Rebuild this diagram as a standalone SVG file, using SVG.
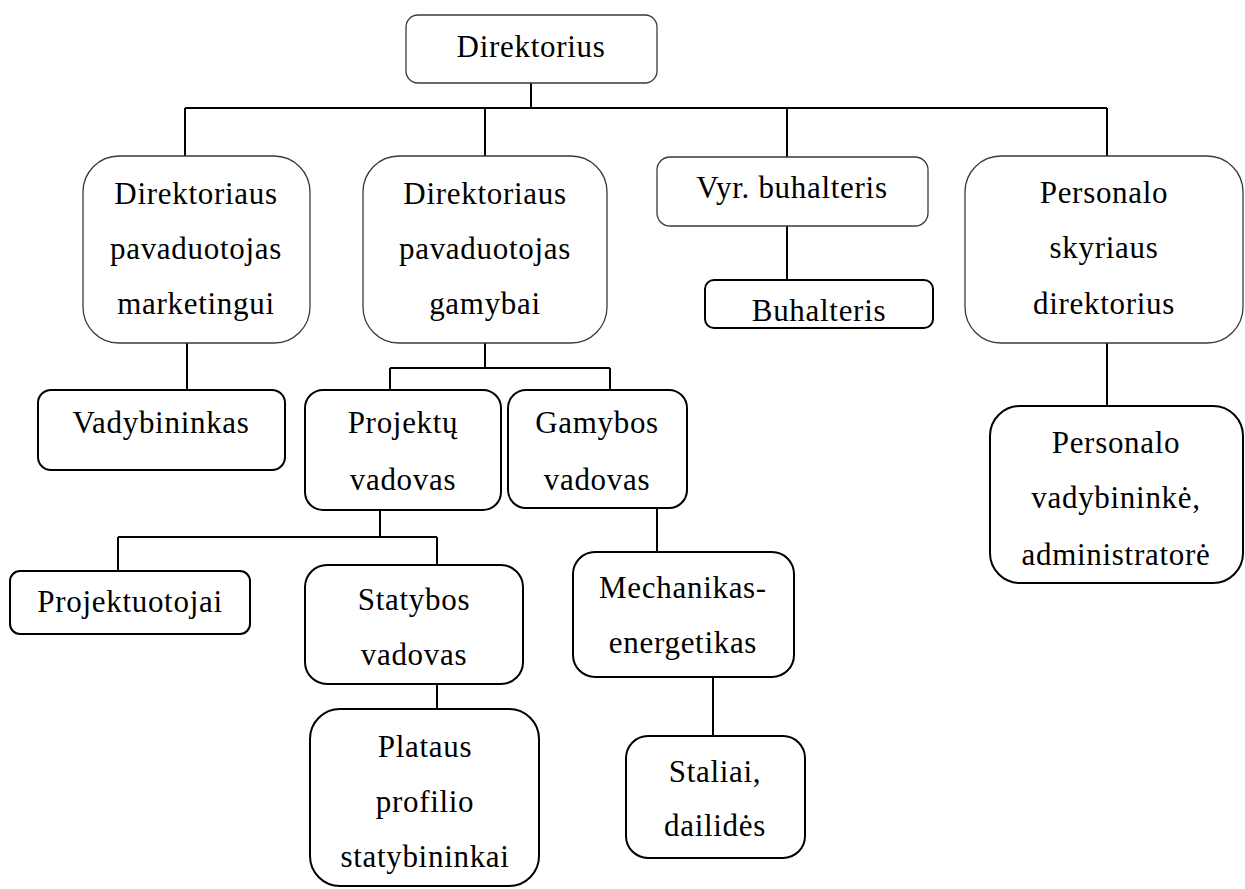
<svg xmlns="http://www.w3.org/2000/svg" width="1245" height="889" viewBox="0 0 1245 889">
  <style>
    .box { fill: #ffffff; stroke: #000000; stroke-width: 2; }
    .box.thin { stroke: #3a3a3a; stroke-width: 1.3; }
    .lbl { font-family: "Liberation Serif", "Times New Roman", serif; font-size: 31px; letter-spacing: 0.7px; fill: #000000; text-anchor: middle; }
    .wire { fill: none; stroke: #000000; stroke-width: 2; }
  </style>
  <rect width="1245" height="889" fill="#ffffff"/>

  <!-- connectors -->
  <g id="connectors" class="wire">
    <path d="M531 83 V108 M185 108 H1107 M185 108 V156 M485 108 V156 M787 108 V157 M1107 108 V156"/>
    <path d="M187 343 V390"/>
    <path d="M485 343 V368 M390 368 H610 M390 368 V390 M610 368 V390"/>
    <path d="M787 226 V280"/>
    <path d="M1107 343 V406"/>
    <path d="M380 510 V537 M118 537 H437 M118 537 V571 M437 537 V565"/>
    <path d="M657 508 V552"/>
    <path d="M437 684 V709"/>
    <path d="M713 677 V736"/>
  </g>

  <g id="direktorius">
    <rect class="box thin" x="406" y="15" width="251" height="68" rx="12"/>
    <text class="lbl" x="531" y="57">Direktorius</text>
  </g>

  <g id="pav-marketingui">
    <rect class="box thin" x="83" y="156" width="227" height="187" rx="36"/>
    <text class="lbl" x="196" y="204">Direktoriaus</text>
    <text class="lbl" x="196" y="259">pavaduotojas</text>
    <text class="lbl" x="196" y="314">marketingui</text>
  </g>

  <g id="pav-gamybai">
    <rect class="box thin" x="363" y="156" width="244" height="187" rx="36"/>
    <text class="lbl" x="485" y="204">Direktoriaus</text>
    <text class="lbl" x="485" y="259">pavaduotojas</text>
    <text class="lbl" x="485" y="314">gamybai</text>
  </g>

  <g id="vyr-buhalteris">
    <rect class="box thin" x="657" y="157" width="271" height="69" rx="13"/>
    <text class="lbl" x="792" y="198">Vyr. buhalteris</text>
  </g>

  <g id="personalo-direktorius">
    <rect class="box thin" x="965" y="156" width="278" height="187" rx="36"/>
    <text class="lbl" x="1104" y="203">Personalo</text>
    <text class="lbl" x="1104" y="258">skyriaus</text>
    <text class="lbl" x="1104" y="314">direktorius</text>
  </g>

  <g id="buhalteris">
    <rect class="box" x="705" y="280" width="228" height="48" rx="9"/>
    <text class="lbl" x="819" y="321">Buhalteris</text>
  </g>

  <g id="vadybininkas">
    <rect class="box" x="38" y="390" width="247" height="80" rx="13"/>
    <text class="lbl" x="161" y="433">Vadybininkas</text>
  </g>

  <g id="projektu-vadovas">
    <rect class="box" x="305" y="390" width="196" height="120" rx="18"/>
    <text class="lbl" x="403" y="433">Projektų</text>
    <text class="lbl" x="403" y="490">vadovas</text>
  </g>

  <g id="gamybos-vadovas">
    <rect class="box" x="508" y="390" width="179" height="118" rx="18"/>
    <text class="lbl" x="597" y="433">Gamybos</text>
    <text class="lbl" x="597" y="490">vadovas</text>
  </g>

  <g id="personalo-vadybininke">
    <rect class="box" x="990" y="406" width="253" height="177" rx="30"/>
    <text class="lbl" x="1116" y="453">Personalo</text>
    <text class="lbl" x="1116" y="508">vadybininkė,</text>
    <text class="lbl" x="1116" y="565">administratorė</text>
  </g>

  <g id="projektuotojai">
    <rect class="box" x="10" y="571" width="240" height="63" rx="10"/>
    <text class="lbl" x="130" y="612">Projektuotojai</text>
  </g>

  <g id="statybos-vadovas">
    <rect class="box" x="305" y="565" width="218" height="119" rx="22"/>
    <text class="lbl" x="414" y="610">Statybos</text>
    <text class="lbl" x="414" y="665">vadovas</text>
  </g>

  <g id="mechanikas-energetikas">
    <rect class="box" x="573" y="552" width="221" height="125" rx="22"/>
    <text class="lbl" x="683" y="598">Mechanikas-</text>
    <text class="lbl" x="683" y="653">energetikas</text>
  </g>

  <g id="plataus-profilio">
    <rect class="box" x="310" y="709" width="229" height="177" rx="30"/>
    <text class="lbl" x="425" y="757">Plataus</text>
    <text class="lbl" x="425" y="812">profilio</text>
    <text class="lbl" x="425" y="867">statybininkai</text>
  </g>

  <g id="staliai-dailides">
    <rect class="box" x="626" y="736" width="179" height="122" rx="22"/>
    <text class="lbl" x="715" y="782">Staliai,</text>
    <text class="lbl" x="715" y="836">dailidės</text>
  </g>
</svg>
